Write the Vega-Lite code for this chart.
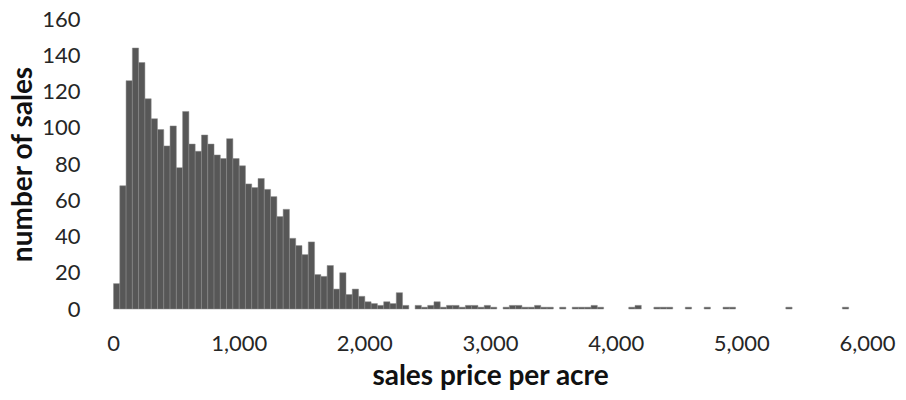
{
  "$schema": "https://vega.github.io/schema/vega-lite/v6.json",
  "width": 754,
  "height": 290,
  "autosize": "none",
  "padding": {"left": 113, "top": 19, "right": 39, "bottom": 91},
  "background": "white",
  "data": {
    "values": [
      {"start": 0, "end": 50, "count": 14},
      {"start": 50, "end": 100, "count": 68},
      {"start": 100, "end": 150, "count": 126},
      {"start": 150, "end": 200, "count": 144},
      {"start": 200, "end": 250, "count": 136},
      {"start": 250, "end": 300, "count": 116},
      {"start": 300, "end": 350, "count": 105},
      {"start": 350, "end": 400, "count": 99},
      {"start": 400, "end": 450, "count": 90},
      {"start": 450, "end": 500, "count": 101},
      {"start": 500, "end": 550, "count": 78},
      {"start": 550, "end": 600, "count": 109},
      {"start": 600, "end": 650, "count": 91},
      {"start": 650, "end": 700, "count": 87},
      {"start": 700, "end": 750, "count": 96},
      {"start": 750, "end": 800, "count": 91},
      {"start": 800, "end": 850, "count": 85},
      {"start": 850, "end": 900, "count": 83},
      {"start": 900, "end": 950, "count": 94},
      {"start": 950, "end": 1000, "count": 83},
      {"start": 1000, "end": 1050, "count": 79},
      {"start": 1050, "end": 1100, "count": 69},
      {"start": 1100, "end": 1150, "count": 67},
      {"start": 1150, "end": 1200, "count": 72},
      {"start": 1200, "end": 1250, "count": 66},
      {"start": 1250, "end": 1300, "count": 62},
      {"start": 1300, "end": 1350, "count": 51},
      {"start": 1350, "end": 1400, "count": 55},
      {"start": 1400, "end": 1450, "count": 39},
      {"start": 1450, "end": 1500, "count": 35},
      {"start": 1500, "end": 1550, "count": 30},
      {"start": 1550, "end": 1600, "count": 37},
      {"start": 1600, "end": 1650, "count": 19},
      {"start": 1650, "end": 1700, "count": 18},
      {"start": 1700, "end": 1750, "count": 24},
      {"start": 1750, "end": 1800, "count": 11},
      {"start": 1800, "end": 1850, "count": 20},
      {"start": 1850, "end": 1900, "count": 8},
      {"start": 1900, "end": 1950, "count": 11},
      {"start": 1950, "end": 2000, "count": 7},
      {"start": 2000, "end": 2050, "count": 4},
      {"start": 2050, "end": 2100, "count": 3},
      {"start": 2100, "end": 2150, "count": 2},
      {"start": 2150, "end": 2200, "count": 4},
      {"start": 2200, "end": 2250, "count": 3},
      {"start": 2250, "end": 2300, "count": 9},
      {"start": 2300, "end": 2350, "count": 2},
      {"start": 2400, "end": 2450, "count": 2},
      {"start": 2450, "end": 2500, "count": 1},
      {"start": 2500, "end": 2550, "count": 2},
      {"start": 2550, "end": 2600, "count": 4},
      {"start": 2600, "end": 2650, "count": 1},
      {"start": 2650, "end": 2700, "count": 2},
      {"start": 2700, "end": 2750, "count": 2},
      {"start": 2750, "end": 2800, "count": 1},
      {"start": 2800, "end": 2850, "count": 2},
      {"start": 2850, "end": 2900, "count": 2},
      {"start": 2900, "end": 2950, "count": 1},
      {"start": 2950, "end": 3000, "count": 2},
      {"start": 3000, "end": 3050, "count": 1},
      {"start": 3100, "end": 3150, "count": 1},
      {"start": 3150, "end": 3200, "count": 2},
      {"start": 3200, "end": 3250, "count": 2},
      {"start": 3250, "end": 3300, "count": 1},
      {"start": 3300, "end": 3350, "count": 1},
      {"start": 3350, "end": 3400, "count": 2},
      {"start": 3400, "end": 3450, "count": 1},
      {"start": 3450, "end": 3500, "count": 1},
      {"start": 3550, "end": 3600, "count": 1},
      {"start": 3650, "end": 3700, "count": 1},
      {"start": 3700, "end": 3750, "count": 1},
      {"start": 3750, "end": 3800, "count": 1},
      {"start": 3800, "end": 3850, "count": 2},
      {"start": 3850, "end": 3900, "count": 1},
      {"start": 4100, "end": 4150, "count": 1},
      {"start": 4150, "end": 4200, "count": 2},
      {"start": 4300, "end": 4350, "count": 1},
      {"start": 4350, "end": 4400, "count": 1},
      {"start": 4400, "end": 4450, "count": 1},
      {"start": 4550, "end": 4600, "count": 1},
      {"start": 4700, "end": 4750, "count": 1},
      {"start": 4850, "end": 4900, "count": 1},
      {"start": 4900, "end": 4950, "count": 1},
      {"start": 5350, "end": 5400, "count": 1},
      {"start": 5800, "end": 5850, "count": 1}
    ]
  },
  "mark": {"type": "bar", "fill": "#575757", "stroke": "#8a8a8a", "strokeWidth": 0.5, "binSpacing": 0},
  "encoding": {
    "x": {
      "field": "start",
      "type": "quantitative",
      "bin": {"binned": true, "step": 50},
      "scale": {"domain": [0, 6000], "nice": false, "zero": true},
      "axis": {
        "title": "sales price per acre",
        "values": [0, 1000, 2000, 3000, 4000, 5000, 6000],
        "format": ",d",
        "domain": false,
        "ticks": false,
        "grid": false,
        "labelFont": "Lato",
        "labelFontSize": 22,
        "labelColor": "#262626",
        "labelPadding": 24,
        "labelFlush": false,
        "labelOverlap": false,
        "titleFont": "Lato",
        "titleFontSize": 28,
        "titleFontWeight": "bold",
        "titleColor": "#111111",
        "titlePadding": 8
      }
    },
    "x2": {"field": "end"},
    "y": {
      "field": "count",
      "type": "quantitative",
      "scale": {"domain": [0, 160], "nice": false, "zero": true},
      "axis": {
        "title": "number of sales",
        "values": [0, 20, 40, 60, 80, 100, 120, 140, 160],
        "domain": false,
        "ticks": false,
        "grid": false,
        "labelFont": "Lato",
        "labelFontSize": 22,
        "labelColor": "#262626",
        "labelPadding": 33,
        "labelFlush": false,
        "labelOverlap": false,
        "titleFont": "Lato",
        "titleFontSize": 28,
        "titleFontWeight": "bold",
        "titleColor": "#111111",
        "titlePadding": 4
      }
    }
  },
  "config": {"view": {"stroke": null}}
}
